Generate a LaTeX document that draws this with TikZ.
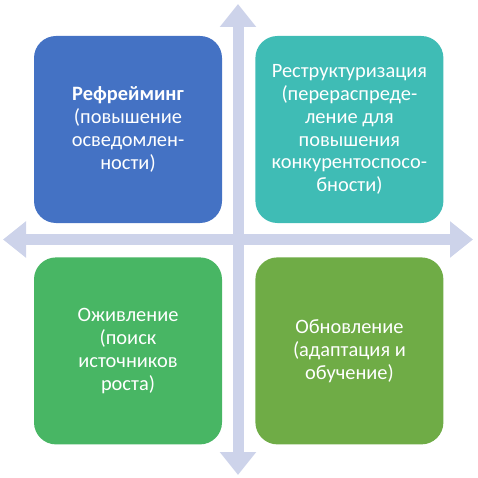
\documentclass[tikz,border=0pt]{standalone}
\usepackage{fontspec}
\setmainfont{Carlito}
\usepackage{xcolor}
\usetikzlibrary{arrows.meta, positioning}
\definecolor{quadblue}{HTML}{4472C4}
\definecolor{quadteal}{HTML}{3FBCB5}
\definecolor{quadgreen}{HTML}{48B664}
\definecolor{quadolive}{HTML}{6FAC46}
\definecolor{axislav}{HTML}{CDD3EA}

\begin{document}
\begin{tikzpicture}[
    x=1pt, y=-1pt,
    quad/.style={rectangle, rounded corners=22pt, draw=none,
                 minimum width=188pt, minimum height=187pt,
                 text=white, align=center, inner sep=0pt,
                 font=\fontsize{20.4}{22.8}\selectfont},
    axis/.style={draw=axislav, line width=11pt,
                 {Triangle[width=35pt, length=23pt]}-{Triangle[width=35pt, length=23pt]}},
]
    \useasboundingbox (0,0) rectangle (477,478);

    % Axes
    \coordinate (top)    at (238,4);
    \coordinate (bottom) at (238,475);
    \coordinate (left)   at (3,239.5);
    \coordinate (right)  at (473,239.5);
    \draw[axis] (bottom) -- (top);
    \draw[axis] (left) -- (right);

    % Quadrants
    \node[quad, fill=quadblue]  (tl) at (128,129.5)
        {\textbf{Рефрейминг}\\(повышение\\осведомлен-\\ности)};
    \node[quad, fill=quadteal]  (tr) [right=33pt of tl]
        {Реструктуризация\\(перераспреде-\\ление для\\повышения\\конкурентоспосо-\\бности)};
    \node[quad, fill=quadgreen] (bl) [below=34pt of tl]
        {Оживление\\(поиск\\источников\\роста)};
    \node[quad, fill=quadolive] (br) [below=34pt of tr]
        {Обновление\\(адаптация и\\обучение)};
\end{tikzpicture}
\end{document}
